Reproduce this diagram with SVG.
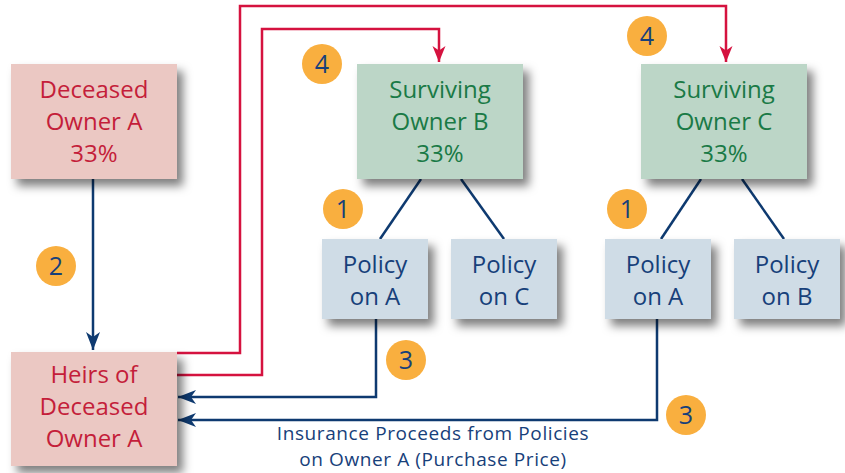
<svg xmlns="http://www.w3.org/2000/svg" width="845" height="473" viewBox="0 0 845 473">
<defs>
<filter id="sh" x="-20%" y="-20%" width="150%" height="160%">
<feDropShadow dx="6" dy="7" stdDeviation="5" flood-color="#000" flood-opacity="0.5"/>
</filter>
<marker id="ab" markerUnits="userSpaceOnUse" markerWidth="20" markerHeight="16" refX="18" refY="7" orient="auto">
<path d="M0,0 L18,7 L0,14 L5,7 z" fill="#0E3A70"/>
</marker>
<marker id="ar" markerUnits="userSpaceOnUse" markerWidth="18" markerHeight="14" refX="16" refY="6.5" orient="auto">
<path d="M0,0 L16,6.5 L0,13 L4.5,6.5 z" fill="#D5123F"/>
</marker>
<style>
text{font-family:"Open Sans","Noto Sans","Liberation Sans",sans-serif;text-anchor:middle}
.n text{font-size:24px}
.pink rect{fill:#EBC8C3}
.pink text{fill:#C41E3A}
.green rect{fill:#BCD6C7}
.green text{fill:#1A7A46}
.blue rect{fill:#CFDCE6}
.blue text{fill:#17407A}
.badge circle{fill:#F9AF3F}
.badge text{fill:#17407A;font-size:25px}
.blk{fill:none;stroke:#0E3A70;stroke-width:2.5}
.red{fill:none;stroke:#D5123F;stroke-width:2.5}
.lbl{fill:#17407A;font-size:19px;letter-spacing:0.6px}
</style>
</defs>

<g id="connectors">
<line class="blk" x1="93" y1="179" x2="93" y2="350" marker-end="url(#ab)"/>
<line class="blk" x1="421" y1="179" x2="380" y2="239"/>
<line class="blk" x1="461" y1="179" x2="504" y2="239"/>
<line class="blk" x1="701" y1="179" x2="661" y2="239"/>
<line class="blk" x1="742" y1="179" x2="784" y2="239"/>
<polyline class="blk" points="376,319 376,397 178,397" marker-end="url(#ab)"/>
<polyline class="blk" points="657,319 657,420 178,420" marker-end="url(#ab)"/>
<polyline class="red" points="177,353 240,353 240,6 726,6 726,62" marker-end="url(#ar)"/>
<polyline class="red" points="177,375 262,375 262,29 439,29 439,62" marker-end="url(#ar)"/>
<text class="lbl" x="433" y="440">Insurance Proceeds from Policies</text>
<text class="lbl" x="433" y="466">on Owner A (Purchase Price)</text>
</g>

<g id="deceased-owner-a" class="n pink">
<rect x="11" y="64" width="166" height="115" filter="url(#sh)"/>
<text x="94" y="98">Deceased</text>
<text x="94" y="130">Owner A</text>
<text x="94" y="162">33%</text>
</g>

<g id="heirs" class="n pink">
<rect x="11" y="352" width="166" height="114" filter="url(#sh)"/>
<text x="94" y="383">Heirs of</text>
<text x="94" y="415">Deceased</text>
<text x="94" y="447">Owner A</text>
</g>

<g id="surviving-owner-b" class="n green">
<rect x="357" y="64" width="166" height="115" filter="url(#sh)"/>
<text x="440" y="98">Surviving</text>
<text x="440" y="130">Owner B</text>
<text x="440" y="162">33%</text>
</g>

<g id="surviving-owner-c" class="n green">
<rect x="641" y="64" width="166" height="115" filter="url(#sh)"/>
<text x="724" y="98">Surviving</text>
<text x="724" y="130">Owner C</text>
<text x="724" y="162">33%</text>
</g>

<g id="policy-b-on-a" class="n blue">
<rect x="322" y="239" width="106" height="80" filter="url(#sh)"/>
<text x="375" y="273">Policy</text>
<text x="375" y="305">on A</text>
</g>

<g id="policy-b-on-c" class="n blue">
<rect x="451" y="239" width="106" height="80" filter="url(#sh)"/>
<text x="504" y="273">Policy</text>
<text x="504" y="305">on C</text>
</g>

<g id="policy-c-on-a" class="n blue">
<rect x="605" y="239" width="106" height="80" filter="url(#sh)"/>
<text x="658" y="273">Policy</text>
<text x="658" y="305">on A</text>
</g>

<g id="policy-c-on-b" class="n blue">
<rect x="734" y="239" width="106" height="80" filter="url(#sh)"/>
<text x="787" y="273">Policy</text>
<text x="787" y="305">on B</text>
</g>

<g id="badge-4b" class="badge"><circle cx="322" cy="64" r="20"/><text x="322" y="73">4</text></g>
<g id="badge-4c" class="badge"><circle cx="647" cy="36" r="20"/><text x="647" y="45">4</text></g>
<g id="badge-1b" class="badge"><circle cx="343" cy="209" r="20"/><text x="343" y="218">1</text></g>
<g id="badge-1c" class="badge"><circle cx="627" cy="209" r="20"/><text x="627" y="218">1</text></g>
<g id="badge-2" class="badge"><circle cx="56" cy="266" r="20"/><text x="56" y="275">2</text></g>
<g id="badge-3b" class="badge"><circle cx="406" cy="360" r="20"/><text x="406" y="369">3</text></g>
<g id="badge-3c" class="badge"><circle cx="686" cy="415" r="20"/><text x="686" y="424">3</text></g>
</svg>
